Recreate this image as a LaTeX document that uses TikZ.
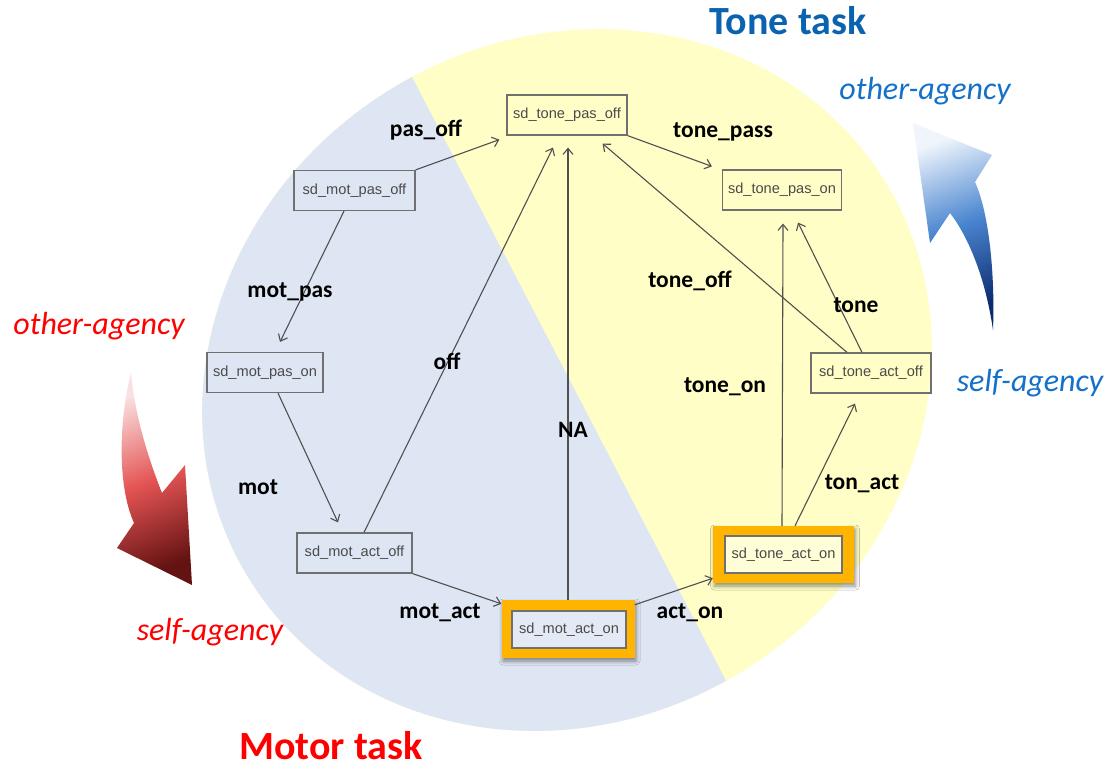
\documentclass[tikz,border=0pt]{standalone}
\usepackage{fontspec}
\setmainfont{Carlito}
\newfontfamily\boxfont{Liberation Sans}
\usetikzlibrary{arrows.meta,calc,shadows.blur}

\definecolor{motorbg}{HTML}{DFE6F3}
\definecolor{tonebg}{HTML}{FFFEC6}
\definecolor{hotorange}{HTML}{FFB500}
\definecolor{boxline}{HTML}{707070}
\definecolor{boxtext}{HTML}{4A4A4A}
\definecolor{edgegray}{HTML}{505050}
\definecolor{toneblue}{HTML}{0B63B0}
\definecolor{agencyblue}{HTML}{1470C8}
\definecolor{motorred}{HTML}{FF0000}
\definecolor{arrowbluelight}{RGB}{240,245,252}
\definecolor{arrowbluemid}{RGB}{74,134,208}
\definecolor{arrowbluedark}{RGB}{12,42,110}
\definecolor{arrowredlight}{RGB}{250,225,225}
\definecolor{arrowredmid}{RGB}{228,84,84}
\definecolor{arrowreddark}{RGB}{100,18,18}

\tikzset{
  state/.style={draw=boxline, line width=1.2pt, text=boxtext,
    font=\boxfont\fontsize{14.6}{17}\selectfont,
    minimum height=40pt, inner sep=0pt},
  hot/.style={fill=hotorange, inner sep=0pt,
    blur shadow={shadow xshift=1.5pt, shadow yshift=-3pt,
      shadow blur radius=4pt, shadow opacity=45}},
  innerbox/.style={line width=1.8pt, minimum height=37pt},
  trans/.style={draw=edgegray, line width=1.1pt,
    -{Straight Barb[length=6pt,width=10pt,line width=1.1pt]}},
  lbl/.style={font=\bfseries\fontsize{23.5}{27}\selectfont, anchor=base, inner sep=0pt},
  tasktitle/.style={font=\bfseries\fontsize{40}{46}\selectfont, anchor=base, inner sep=0pt},
  agency/.style={font=\itshape\fontsize{32}{36}\selectfont, anchor=base, inner sep=0pt},
}

\begin{document}
\begin{tikzpicture}[x=1pt,y=-1pt]
% canvas
\fill[white] (0,0) rectangle (1119,769);
\useasboundingbox (0,0) rectangle (1119,769);

% task areas: tone (yellow) and motor (blue) halves of one tilted ellipse
\fill[tonebg, rotate around={33.3:(567,380)}] (567,380) ellipse [x radius=375pt, y radius=340pt];
\begin{scope}
  \clip[rotate around={33.3:(567,380)}] (567,380) ellipse [x radius=375pt, y radius=340pt];
  \fill[motorbg] (0,0) -- (372,0) -- (772,769) -- (0,769) -- cycle;
\end{scope}

% agency arrows
\shade[top color=arrowbluelight, bottom color=arrowbluedark, middle color=arrowbluemid, shading angle=21]
  (913,123) -- (992,155) -- (975,182)
  .. controls (990,215) and (995,280) .. (993,330)
  .. controls (985,275) and (967,235) .. (950,213)
  -- (930,243) -- cycle;
\shade[top color=arrowredlight, bottom color=arrowreddark, middle color=arrowredmid, shading angle=22]
  (131,373) .. controls (119,420) and (117,485) .. (134,523)
  -- (117,548) -- (192,585) -- (185,465) -- (162,493)
  .. controls (147,455) and (135,415) .. (131,373) -- cycle;

% states
\node[state, minimum width=120pt] (tpo) at (567,115) {sd\_tone\_pas\_off};
\node[state, minimum width=121pt] (mpo) at (354.5,190.5) {sd\_mot\_pas\_off};
\node[state, minimum width=119pt] (tpn) at (782,190) {sd\_tone\_pas\_on};
\node[state, minimum width=116pt] (mpn) at (265,372.5) {sd\_mot\_pas\_on};
\node[state, minimum width=120pt] (tao) at (871,373) {sd\_tone\_act\_off};
\node[state, minimum width=115pt] (mao) at (354.5,553) {sd\_mot\_act\_off};

% highlighted active states
\node[hot, minimum width=133pt, minimum height=58pt] (mota) at (568,629) {};
\node[state, innerbox, fill=motorbg!85!white, minimum width=114pt] (motai) at (569,629.5) {sd\_mot\_act\_on};
\node[hot, minimum width=141pt, minimum height=57pt] (tona) at (783.5,554.5) {};
\node[state, innerbox, fill=tonebg!70!white, minimum width=117pt] (tonai) at (783.5,554.5) {sd\_tone\_act\_on};

% transitions
\draw[trans] (mpo.north east) -- ([shift={(-7,4)}]tpo.south west);
\draw[trans] ([shift={(-10.5,0)}]mpo.south) -- ([shift={(15,-10)}]mpn.north);
\draw[trans] ([shift={(13,0)}]mpn.south) -- ([shift={(-16.5,-10)}]mao.north);
\draw[trans] ([shift={(9.5,0)}]mao.north) -- ([shift={(-14,12)}]tpo.south);
\draw[trans] (mao.south east) -- ([shift={(0,4)}]mota.north west);
\draw[trans] (mota.north) -- ([shift={(1,12)}]tpo.south);
\draw[trans] ([shift={(0,5)}]mota.north east) -- ([shift={(0,-5)}]tona.south west);
\draw[trans] ([shift={(-1.5,0)}]tona.north) -- ([shift={(1,13)}]tpn.south);
\draw[trans] ([shift={(11.5,0)}]tona.north) -- ([shift={(-16,10)}]tao.south);
\draw[trans] ([shift={(-24,0)}]tao.north) -- ([shift={(-25,8)}]tpo.south east);
\draw[trans] ([shift={(-9,0)}]tao.north) -- ([shift={(16,12)}]tpn.south);
\draw[trans] (tpo.south east) -- ([shift={(-10,-3)}]tpn.north west);

% transition labels
\node[lbl] (lpasoff) at (426,136) {pas\_off};
\node[lbl] (ltonepass) at (723,137) {tone\_pass};
\node[lbl] (lmotpas) at (290,297) {mot\_pas};
\node[lbl] (lmot) at (258,494) {mot};
\node[lbl] (loff) at (447,369) {off};
\node[lbl] (lna) at (573,437) {NA};
\node[lbl] (ltoneoff) at (690,287) {tone\_off};
\node[lbl] (ltone) at (856,312) {tone};
\node[lbl] (ltoneon) at (725,392) {tone\_on};
\node[lbl] (ltonact) at (862,489) {ton\_act};
\node[lbl] (lmotact) at (440,618) {mot\_act};
\node[lbl] (lacton) at (690,618) {act\_on};

% task titles
\node[tasktitle, text=toneblue] (tonetask) at (788,34) {Tone task};
\node[tasktitle, text=motorred] (motortask) at (331,759) {Motor task};

% agency captions
\node[agency, text=motorred] (rother) at (99,334) {other-agency};
\node[agency, text=motorred] (rself) at (210,640) {self-agency};
\node[agency, text=agencyblue] (bother) at (925,99) {other-agency};
\node[agency, text=agencyblue] (bself) at (1030,391) {self-agency};
\end{tikzpicture}
\end{document}
